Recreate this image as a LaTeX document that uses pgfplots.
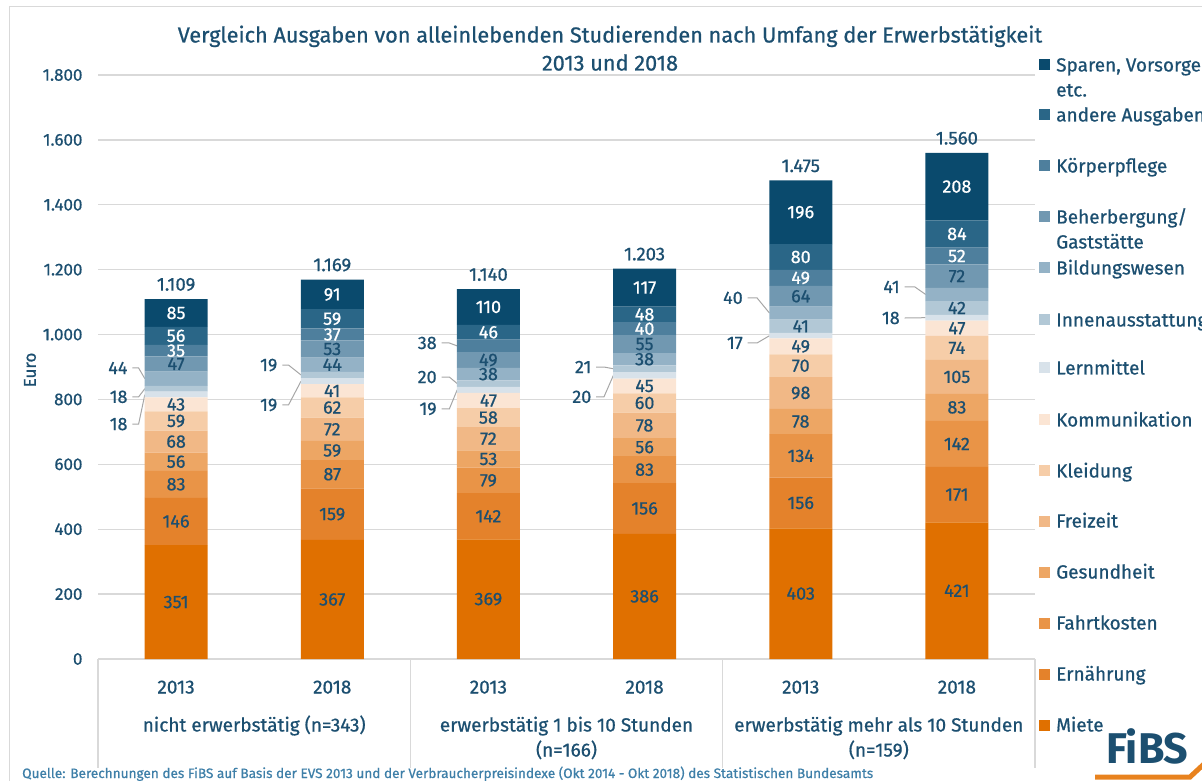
\documentclass[border=0pt]{standalone}
\usepackage{pgfplots}
\pgfplotsset{compat=1.18}
\usepackage{pgfplotstable}
\usepackage{fontspec}
\setmainfont{Fira Sans}[FakeBold=0.7]
\newfontfamily\logofont{Fira Sans}

\definecolor{cMiete}{HTML}{E07000}
\definecolor{cErn}{HTML}{E4822B}
\definecolor{cFahrt}{HTML}{E99447}
\definecolor{cGes}{HTML}{EDA664}
\definecolor{cFrei}{HTML}{F1B886}
\definecolor{cKleid}{HTML}{F6CDA8}
\definecolor{cKomm}{HTML}{FBE5D4}
\definecolor{cLern}{HTML}{D8E2EA}
\definecolor{cInnen}{HTML}{B2C8D6}
\definecolor{cBild}{HTML}{94B2C6}
\definecolor{cBeh}{HTML}{7198B1}
\definecolor{cKoerp}{HTML}{4E7F9D}
\definecolor{cAnd}{HTML}{2A6687}
\definecolor{cSpar}{HTML}{0A4A6D}
\definecolor{txt}{HTML}{1C4F70}
\definecolor{quelle}{HTML}{3E7FA8}
\definecolor{gridc}{HTML}{D9D9D9}
\definecolor{leadc}{HTML}{A6A6A6}
\definecolor{fibsorange}{HTML}{E8821E}

\newcommand\tickfont{\fontsize{17}{20}\selectfont}
\newcommand\totfont{\fontsize{18.5}{20}\selectfont}
\newcommand\barfont{\fontsize{18}{20}\selectfont}
\newcommand\legfont{\fontsize{19}{24}\selectfont}
\newcommand\catfont{\fontsize{19}{24}\selectfont}
\newcommand\titfont{\fontsize{21.7}{26}\selectfont}

\pgfplotstableread{
x   Miete Ern Fahrt Ges Frei Kleid Komm Lern Innen Bild Beh Koerp And Spar Total InnenL BildL KoerpL
0.5 351   146 83    56  68   59    43   18   18    44   47  35    56  85   1109  0      0     35
1.5 367   159 87    59  72   62    41   19   19    44   53  37    59  91   1169  0      44    37
2.5 369   142 79    53  72   58    47   19   20    38   49  38    46  110  1140  0      38    0
3.5 386   156 83    56  78   60    45   20   21    38   55  40    48  117  1203  0      38    40
4.5 403   156 134   78  98   70    49   17   41    40   64  49    80  196  1475  41     0     49
5.5 421   171 142   83  105  74    47   18   42    41   72  52    84  208  1560  42     0     52
}\data

% running sums (top of each segment), used only to centre the value labels
\pgfplotstablecreatecol[create col/expr={\thisrow{Miete}}]{sMiete}\data
\pgfplotstablecreatecol[create col/expr={\thisrow{sMiete}+\thisrow{Ern}}]{sErn}\data
\pgfplotstablecreatecol[create col/expr={\thisrow{sErn}+\thisrow{Fahrt}}]{sFahrt}\data
\pgfplotstablecreatecol[create col/expr={\thisrow{sFahrt}+\thisrow{Ges}}]{sGes}\data
\pgfplotstablecreatecol[create col/expr={\thisrow{sGes}+\thisrow{Frei}}]{sFrei}\data
\pgfplotstablecreatecol[create col/expr={\thisrow{sFrei}+\thisrow{Kleid}}]{sKleid}\data
\pgfplotstablecreatecol[create col/expr={\thisrow{sKleid}+\thisrow{Komm}}]{sKomm}\data
\pgfplotstablecreatecol[create col/expr={\thisrow{sKomm}+\thisrow{Lern}}]{sLern}\data
\pgfplotstablecreatecol[create col/expr={\thisrow{sLern}+\thisrow{Innen}}]{sInnen}\data
\pgfplotstablecreatecol[create col/expr={\thisrow{sInnen}+\thisrow{Bild}}]{sBild}\data
\pgfplotstablecreatecol[create col/expr={\thisrow{sBild}+\thisrow{Beh}}]{sBeh}\data
\pgfplotstablecreatecol[create col/expr={\thisrow{sBeh}+\thisrow{Koerp}}]{sKoerp}\data
\pgfplotstablecreatecol[create col/expr={\thisrow{sKoerp}+\thisrow{And}}]{sAnd}\data
\pgfplotstablecreatecol[create col/expr={\thisrow{sAnd}+\thisrow{Spar}}]{sSpar}\data

\pgfplotsset{
  frame/.style={at={(98pt,121pt)}, anchor=south west,
    scale only axis, width=937pt, height=584pt,
    xmin=0, xmax=6, ymin=0, ymax=1800,
    /pgf/number format/1000 sep={.},
    /pgf/number format/assume math mode=true,
    clip=false},
  lab/.style={only marks, mark=none, point meta=explicit, nodes near coords,
    every node near coord/.append style={anchor=center, inner sep=0pt, text=#1, font=\barfont}},
  labh/.style={lab=#1,
    nodes near coords={\pgfmathfloatifflags{\pgfplotspointmeta}{0}{}{\pgfmathprintnumber{\pgfplotspointmeta}}}},
}
% label at the middle of segment #1
\newcommand\labplot[3][lab]{\addplot[#1=#3] table[x=x, y expr={\thisrow{s#2}-0.5*\thisrow{#2}}, meta=#2] {\data};}
\newcommand\labploth[3]{\addplot[labh=#3] table[x=x, y expr={\thisrow{s#1}-0.5*\thisrow{#1}}, meta=#2] {\data};}

\newcommand\legentry[3]{%
  \fill[#1] (1038.5pt,{785.5pt-#2pt}) rectangle ++(11pt,-11pt);
  \node[anchor=base west, inner sep=0pt, text=txt, font=\legfont] at (1056pt,{773.5pt-#2pt}) {#3};}

\begin{document}
\begin{tikzpicture}
\useasboundingbox (0,0) rectangle (1202pt,780pt);
\clip (0,0) rectangle (1202pt,780pt);
\draw[gridc, line width=1pt] (9pt,-10pt) -- (9pt,773pt) -- (1210pt,773pt);
\begin{axis}[
  frame,
  ybar stacked, bar width=63pt,
  axis line style={draw=none},
  ytick={0,200,...,1800},
  ymajorgrids, major grid style={gridc, line width=1.3pt},
  xtick={0.5,1.5,...,5.5},
  xticklabels={2013,2018,2013,2018,2013,2018},
  major tick length=0pt,
  xticklabel style={anchor=base, yshift=-34.5pt, text=txt, font=\catfont},
  yticklabel style={anchor=east, xshift=-12pt, text=txt, font=\tickfont},
]
\addplot[fill=cMiete, draw=none] table[x=x,y=Miete] {\data};
\addplot[fill=cErn, draw=none] table[x=x,y=Ern] {\data};
\addplot[fill=cFahrt, draw=none] table[x=x,y=Fahrt] {\data};
\addplot[fill=cGes, draw=none] table[x=x,y=Ges] {\data};
\addplot[fill=cFrei, draw=none] table[x=x,y=Frei] {\data};
\addplot[fill=cKleid, draw=none] table[x=x,y=Kleid] {\data};
\addplot[fill=cKomm, draw=none] table[x=x,y=Komm] {\data};
\addplot[fill=cLern, draw=none] table[x=x,y=Lern] {\data};
\addplot[fill=cInnen, draw=none] table[x=x,y=Innen] {\data};
\addplot[fill=cBild, draw=none] table[x=x,y=Bild] {\data};
\addplot[fill=cBeh, draw=none] table[x=x,y=Beh] {\data};
\addplot[fill=cKoerp, draw=none] table[x=x,y=Koerp] {\data};
\addplot[fill=cAnd, draw=none] table[x=x,y=And] {\data};
\addplot[fill=cSpar, draw=none] table[x=x,y=Spar] {\data};

% outside labels with leader lines
\tikzset{olab/.style={anchor=east, inner sep=0pt, text=txt, font=\barfont}, lead/.style={leadc, line width=1pt}}
% bar 1
\node[olab] at (axis cs:0.19,897) {44};
\draw[lead] (axis cs:0.22,897) -- (axis cs:0.26,897) -- (axis cs:0.3,864);
\node[olab] at (axis cs:0.19,808) {18};
\draw[lead] (axis cs:0.22,808) -- (axis cs:0.26,808) -- (axis cs:0.3,833);
\node[olab] at (axis cs:0.19,724) {18};
\draw[lead] (axis cs:0.22,724) -- (axis cs:0.26,724) -- (axis cs:0.3,815);
% bar 2
\node[olab] at (axis cs:1.15,906) {19};
\draw[lead] (axis cs:1.18,906) -- (axis cs:1.22,906) -- (axis cs:1.3,875.5);
\node[olab] at (axis cs:1.15,783) {19};
\draw[lead] (axis cs:1.18,783) -- (axis cs:1.22,783) -- (axis cs:1.3,856.5);
% bar 3
\node[olab] at (axis cs:2.17,974) {38};
\draw[lead] (axis cs:2.2,974) -- (axis cs:2.25,974) -- (axis cs:2.3,965);
\node[olab] at (axis cs:2.17,869) {20};
\draw[lead] (axis cs:2.2,869) -- (axis cs:2.25,869) -- (axis cs:2.3,849);
\node[olab] at (axis cs:2.17,771) {19};
\draw[lead] (axis cs:2.2,771) -- (axis cs:2.25,771) -- (axis cs:2.3,829.5);
% bar 4
\node[olab] at (axis cs:3.16,900) {21};
\draw[lead] (axis cs:3.19,900) -- (axis cs:3.24,900) -- (axis cs:3.3,894.5);
\node[olab] at (axis cs:3.16,808) {20};
\draw[lead] (axis cs:3.19,808) -- (axis cs:3.24,808) -- (axis cs:3.3,874);
% bar 5
\node[olab] at (axis cs:4.13,1113) {40};
\draw[lead] (axis cs:4.16,1113) -- (axis cs:4.22,1113) -- (axis cs:4.3,1066);
\node[olab] at (axis cs:4.13,974) {17};
\draw[lead] (axis cs:4.16,974) -- (axis cs:4.22,974) -- (axis cs:4.3,996.5);
% bar 6
\node[olab] at (axis cs:5.135,1147) {41};
\draw[lead] (axis cs:5.165,1147) -- (axis cs:5.23,1147) -- (axis cs:5.3,1123.5);
\node[olab] at (axis cs:5.135,1051) {18};
\draw[lead] (axis cs:5.165,1051) -- (axis cs:5.3,1052);
\end{axis}

% value labels in the middle of each segment, and totals above the bars
\begin{axis}[frame, hide axis]
\labplot{Miete}{txt}
\labplot{Ern}{txt}
\labplot{Fahrt}{txt}
\labplot{Ges}{txt}
\labplot{Frei}{txt}
\labplot{Kleid}{txt}
\labplot{Komm}{txt}
\labploth{Innen}{InnenL}{txt}
\labploth{Bild}{BildL}{txt}
\labplot{Beh}{txt}
\labploth{Koerp}{KoerpL}{white}
\labplot{And}{white}
\labplot{Spar}{white}
\addplot[only marks, mark=none, nodes near coords, point meta=y,
  every node near coord/.append style={anchor=south, inner sep=0pt, yshift=8pt, text=txt, font=\totfont}]
  table[x=x, y=Total] {\data};
\end{axis}

% category separators
\foreach \xx in {98,410.3,722.7,1035} {\draw[gridc, line width=1.3pt] (\xx pt,121pt) -- (\xx pt,12pt);}
% group labels
\node[anchor=base, inner sep=0pt, text=txt, font=\catfont] at (254.2pt,48.5pt) {nicht erwerbstätig (n=343)};
\node[anchor=base, inner sep=0pt, text=txt, font=\catfont] at (566.5pt,48.5pt) {erwerbstätig 1 bis 10 Stunden};
\node[anchor=base, inner sep=0pt, text=txt, font=\catfont] at (566.5pt,23.5pt) {(n=166)};
\node[anchor=base, inner sep=0pt, text=txt, font=\catfont] at (878.8pt,48.5pt) {erwerbstätig mehr als 10 Stunden};
\node[anchor=base, inner sep=0pt, text=txt, font=\catfont] at (878.8pt,23.5pt) {(n=159)};

% title
\node[anchor=base, inner sep=0pt, text=txt, font=\titfont] at (610pt,737.5pt) {Vergleich Ausgaben von alleinlebenden Studierenden nach Umfang der Erwerbstätigkeit};
\node[anchor=base, inner sep=0pt, text=txt, font=\titfont] at (610pt,709.5pt) {2013 und 2018};
% y label
\node[rotate=90, anchor=center, inner sep=0pt, text=txt, font=\tickfont] at (30pt,410pt) {Euro};

% legend
\legentry{cSpar}{65}{Sparen, Vorsorge}
\node[anchor=base west, inner sep=0pt, text=txt, font=\legfont] at (1056pt,683.5pt) {etc.};
\legentry{cAnd}{115}{andere Ausgaben}
\legentry{cKoerp}{166}{Körperpflege}
\legentry{cBeh}{217}{Beherbergung/}
\node[anchor=base west, inner sep=0pt, text=txt, font=\legfont] at (1056pt,531.5pt) {Gaststätte};
\legentry{cBild}{268}{Bildungswesen}
\legentry{cInnen}{320}{Innenausstattung}
\legentry{cLern}{368}{Lernmittel}
\legentry{cKomm}{420}{Kommunikation}
\legentry{cKleid}{471}{Kleidung}
\legentry{cFrei}{521}{Freizeit}
\legentry{cGes}{572}{Gesundheit}
\legentry{cFahrt}{623}{Fahrtkosten}
\legentry{cErn}{674}{Ernährung}
\legentry{cMiete}{725}{Miete}

% source
\node[anchor=base west, inner sep=0pt, text=quelle, font=\fontsize{13.6}{15}\selectfont] at (22pt,2pt) {Quelle: Berechnungen des FiBS auf Basis der EVS 2013 und der Verbraucherpreisindexe (Okt 2014 - Okt 2018) des Statistischen Bundesamts};
% logo
\node[anchor=base west, inner sep=0pt, text=txt, font=\logofont\bfseries\fontsize{43}{45}\selectfont] at (1106pt,17pt) {FiBS};
\draw[fibsorange, line width=5pt] (1095pt,3pt) -- (1190pt,3pt) -- (1204pt,16pt);
\end{tikzpicture}
\end{document}
